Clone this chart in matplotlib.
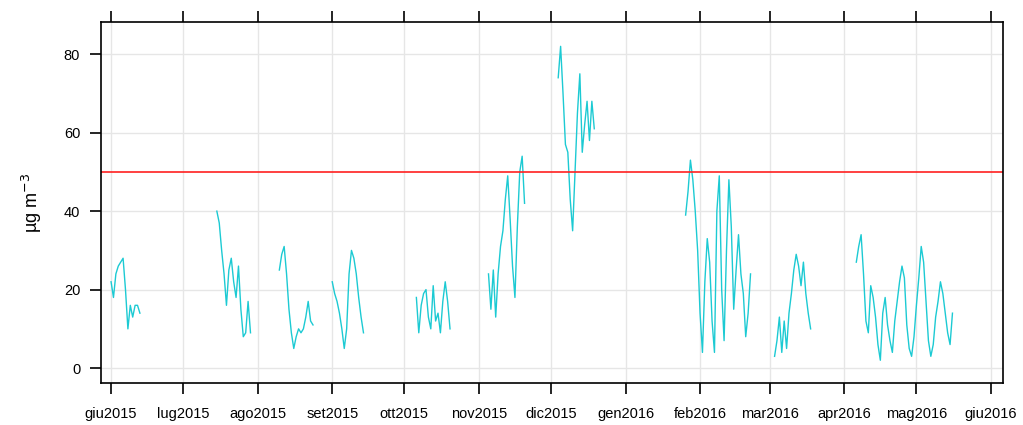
import numpy as np
import pandas as pd
import matplotlib
matplotlib.use("Agg")
import matplotlib.pyplot as plt

# daily concentrations, one block per run of valid data (gaps are missing days)
seg_starts = ["2015-06-01", "2015-07-15", "2015-08-10", "2015-09-01", "2015-10-06",
              "2015-11-05", "2015-12-04", "2016-01-26", "2016-03-03", "2016-04-06"]
seg1 = [22, 18, 24, 26, 27, 28, 20, 10, 16, 13, 16, 16, 14]
seg2 = [40, 37, 30, 24, 16, 25, 28, 22, 18, 26, 15, 8, 9, 17, 9]
seg3 = [25, 29, 31, 24, 15, 9, 5, 8, 10, 9, 10, 13, 17, 12, 11]
seg4 = [22, 19, 17, 14, 10, 5, 10, 24, 30, 28, 24, 18, 13, 9]
seg5 = [18, 9, 16, 19, 20, 13, 10, 21, 12, 14, 9, 17, 22, 17, 10]
seg6 = [24, 15, 25, 13, 24, 31, 35, 43, 49, 38, 26, 18, 36, 50, 54, 42]
seg7 = [74, 82, 70, 57, 55, 43, 35, 50, 65, 75, 55, 62, 68, 58, 68, 61]
seg8 = [39, 45, 53, 48, 40, 30, 14, 4, 22, 33, 27, 12, 4, 40, 49, 20, 7, 30,
        48, 36, 15, 25, 34, 24, 19, 8, 14, 24]
seg9 = [3, 7, 13, 4, 12, 5, 14, 19, 25, 29, 26, 21, 27, 19, 14, 10]
seg10 = [27, 31, 34, 24, 12, 9, 21, 18, 13, 6, 2, 14, 18, 11, 7, 4, 12, 17, 22, 26,
         23, 11, 5, 3, 8, 16, 23, 31, 27, 17, 7, 3, 6, 13, 17, 22, 19, 14, 9, 6, 14]
segments = [seg1, seg2, seg3, seg4, seg5, seg6, seg7, seg8, seg9, seg10]

limit_value = 50
month_labels = ["giu2015", "lug2015", "ago2015", "set2015", "ott2015", "nov2015",
                "dic2015", "gen2016", "feb2016", "mar2016", "apr2016", "mag2016", "giu2016"]


def build_series():
    idx = pd.date_range("2015-06-01", "2016-05-31", freq="D")
    s = pd.Series(np.nan, index=idx)
    for start, vals in zip(seg_starts, segments):
        days = pd.date_range(start, periods=len(vals), freq="D")
        s.loc[days] = vals
    return s


def plot_series(s):
    plt.rcParams["font.family"] = ["Liberation Sans", "DejaVu Sans"]
    fig = plt.figure(figsize=(10.23, 4.25), dpi=100)
    ax = fig.add_axes([0.0987, 0.0988, 0.8817, 0.8494])

    ax.plot(s.index, s.values, color="#1CCAD3", lw=1.0)
    ax.axhline(limit_value, color="#FF2020", lw=1.2)

    ticks = pd.date_range("2015-06-01", "2016-06-01", freq="MS")
    ax.set_xticks(ticks)
    ax.set_xticklabels(month_labels)
    ax.set_xlim(pd.Timestamp("2015-06-01") - pd.Timedelta(days=4.2),
                pd.Timestamp("2016-06-01") + pd.Timedelta(days=5))
    ax.set_yticks([0, 20, 40, 60, 80])
    ax.set_ylim(-3.8, 88.2)

    ax.grid(True, color="#E6E6E6", lw=1)
    ax.set_axisbelow(True)
    ax.tick_params(axis="x", which="both", direction="out", length=8, width=1.2,
                   top=True, labeltop=False, labelsize=10.5, pad=9, colors="black")
    ax.tick_params(axis="y", direction="out", length=8, width=1.2,
                   right=False, labelsize=10.5, pad=7)
    for sp in ax.spines.values():
        sp.set_linewidth(1.2)

    ax.set_ylabel("µg m$^{-3}$", fontsize=13, labelpad=14)
    fig.savefig("out.png", dpi=100)
    plt.close(fig)


def main():
    s = build_series()
    plot_series(s)


if __name__ == "__main__":
    main()
